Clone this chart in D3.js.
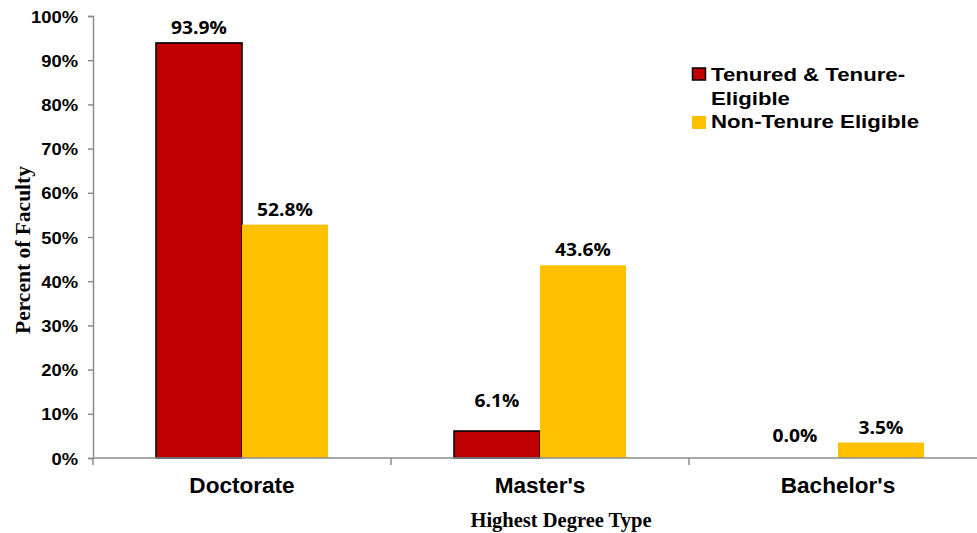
<!DOCTYPE html>
<html><head><meta charset="utf-8">
<script src="https://cdn.jsdelivr.net/npm/d3@7"></script>
<style>body{margin:0;background:#fff}svg{display:block}</style>
</head><body>
<svg id="c" width="977" height="533"></svg>
<script>
const categories = ["Doctorate", "Master's", "Bachelor's"];
const seriesNames = ["Tenured & Tenure-Eligible", "Non-Tenure Eligible"];
const tenured = [93.9, 6.1, 0.0];
const nonTenure = [52.8, 43.6, 3.5];
const yTicks = [0, 10, 20, 30, 40, 50, 60, 70, 80, 90, 100];
const colors = ["#C00000", "#FFC000"];

(function () {
const svg = d3.select("#c");
const mLeft = 93, mRight = 987, mTop = 16, mBottom = 458;
const SANS = "Liberation Sans, Arial, sans-serif";
const SERIF = "Liberation Serif, Times New Roman, serif";

const y = d3.scaleLinear().domain([0, 100]).range([mBottom, mTop]);
const x0 = d3.scaleBand().domain(categories).range([mLeft, mRight]).padding(0);
const x1 = d3.scaleBand().domain([0, 1]).range([0, x0.bandwidth()]).paddingInner(0).paddingOuter(0.733);

const data = categories.map((c, i) => ({cat: c, vals: [tenured[i], nonTenure[i]]}));

function stext(parent, x, yy, sx, txt) {
  return parent.append("text").attr("transform", `translate(${x},${yy}) scale(${sx},1)`).text(txt);
}

// Y axis
const yAxis = svg.append("g").attr("transform", `translate(${mLeft},0)`)
  .call(d3.axisLeft(y).tickValues(yTicks).tickSize(5).tickFormat(d => d + "%"));
yAxis.select(".domain").attr("stroke", "#8c8c8c").attr("stroke-width", 1.5);
yAxis.selectAll(".tick line").attr("stroke", "#8c8c8c").attr("stroke-width", 1.5);
yAxis.selectAll(".tick text")
  .attr("font-family", SANS).attr("font-weight", "bold").attr("font-size", 16).attr("fill", "#000")
  .attr("x", null).attr("dy", null).attr("text-anchor", "end")
  .attr("transform", "translate(-15,6) scale(1.15,1)");

// bars
const g = svg.append("g");
data.forEach(d => {
  d.vals.forEach((v, j) => {
    const bx = x0(d.cat) + x1(j);
    if (v > 0) {
      g.append("rect").attr("x", bx).attr("y", y(v)).attr("width", x1.bandwidth())
        .attr("height", y(0) - y(v)).attr("fill", colors[j])
        .attr("stroke", j === 0 ? "#000" : "none").attr("stroke-width", j === 0 ? 1.6 : 0);
    }
    stext(g, bx + x1.bandwidth() / 2, y(v) - (v < 1 ? 16 : (v < 10 && j === 0 ? 24 : 9)), 1.1, v.toFixed(1) + "%")
      .attr("text-anchor", "middle").attr("font-family", "Open Sans, sans-serif")
      .attr("font-weight", "bold").attr("font-size", 17.5).attr("fill", "#000");
  });
});

// X axis
const xAxis = svg.append("g").attr("transform", `translate(0,${mBottom})`);
xAxis.append("line").attr("x1", mLeft).attr("x2", mRight).attr("stroke", "#8c8c8c").attr("stroke-width", 1.5);
categories.forEach(c => {
  xAxis.append("line").attr("x1", x0(c)).attr("x2", x0(c)).attr("y1", 0).attr("y2", 7)
    .attr("stroke", "#8c8c8c").attr("stroke-width", 1.5);
  stext(xAxis, x0(c) + x0.bandwidth() / 2, 35, 1.05, c)
    .attr("text-anchor", "middle").attr("font-family", SANS)
    .attr("font-weight", "bold").attr("font-size", 21.5).attr("fill", "#000");
});

// axis titles
svg.append("text").attr("transform", "translate(30,250) rotate(-90)").attr("text-anchor", "middle")
  .attr("font-family", SERIF).attr("font-weight", "bold")
  .attr("font-size", 21.5).attr("fill", "#000").text("Percent of Faculty");
svg.append("text").attr("x", 561).attr("y", 527).attr("text-anchor", "middle")
  .attr("font-family", SERIF).attr("font-weight", "bold")
  .attr("font-size", 20.5).attr("fill", "#000").text("Highest Degree Type");

// legend
const lg = svg.append("g").attr("font-family", SANS)
  .attr("font-weight", "bold").attr("font-size", 19).attr("fill", "#000");
lg.append("rect").attr("x", 692.5).attr("y", 68).attr("width", 13).attr("height", 12)
  .attr("fill", colors[0]).attr("stroke", "#000").attr("stroke-width", 1.5);
stext(lg, 711, 81, 1.17, "Tenured & Tenure-");
stext(lg, 711, 105, 1.17, "Eligible");
lg.append("rect").attr("x", 692).attr("y", 116).attr("width", 14).attr("height", 13).attr("fill", colors[1]);
stext(lg, 711, 128, 1.17, seriesNames[1]);
})();
</script>
</body></html>
